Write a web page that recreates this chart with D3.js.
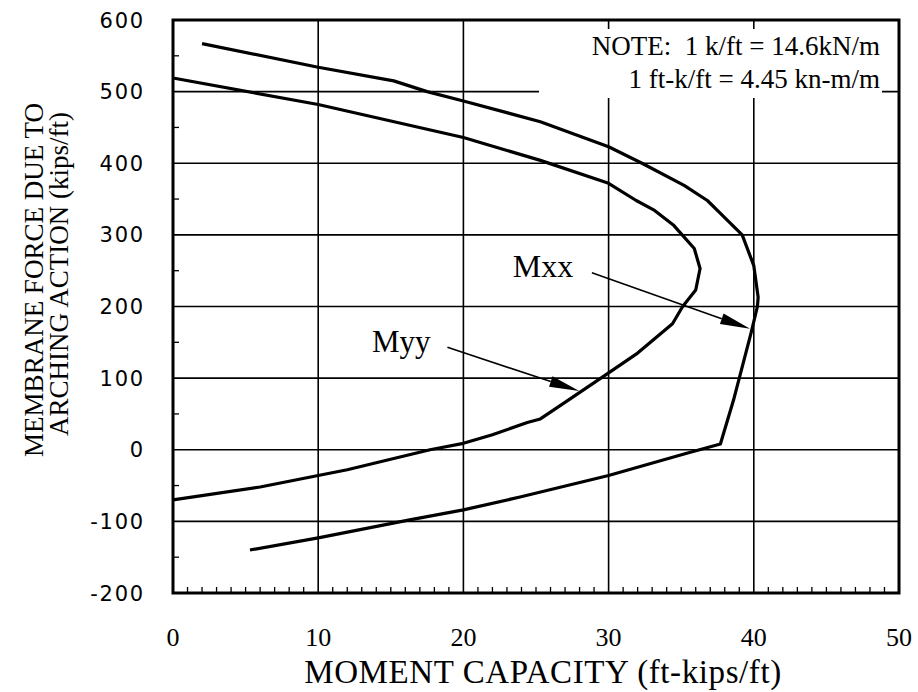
<!DOCTYPE html>
<html>
<head>
<meta charset="utf-8">
<script src="https://cdn.jsdelivr.net/npm/d3@7"></script>
<style>
  html, body { margin: 0; padding: 0; background: #fff; }
  svg { display: block; }
</style>
</head>
<body>
<script>
// ---- Data ----
const xTicks = [0, 10, 20, 30, 40, 50];
const yTicks = [600, 500, 400, 300, 200, 100, 0, -100, -200];

// Mxx: [moment capacity (ft-kips/ft), membrane force (kips/ft)]
const mxxX = [5.3, 10, 16.3, 20, 23.9, 30, 35.2, 37.7, 38.6, 39.8, 40.25, 40.3, 40.0, 39.2, 37.7, 36.8, 35.2, 32.3, 30, 25.3, 20, 17.5, 15.2, 10, 2];
const mxxY = [-140, -123, -98, -84, -66, -36, -6, 8, 69, 162, 200, 213, 257, 300, 330, 348, 369, 400, 423, 458, 487, 500, 515, 534, 567];

// Myy
const myyX = [0, 6, 12, 17.7, 20, 22, 24.4, 25.3, 27.2, 29.9, 32, 34.4, 35.1, 36.0, 36.3, 35.9, 34.5, 33.1, 31.9, 30, 25.3, 20, 10, 0];
const myyY = [-70, -52, -28, 0, 9, 21, 38, 43, 69, 106, 135, 176, 200, 223, 253, 281, 313, 335, 348, 372, 404, 436, 482, 519];

// Annotations (data coordinates)
const labelNames = ["Mxx", "Myy"];
const labelPos = [[23.4, 241], [13.7, 136]];
const arrowFrom = [[28.85, 247], [18.9, 143]];
const arrowTo = [[39.74, 169], [27.98, 82]];

const noteLines = ["NOTE:  1 k/ft = 14.6kN/m", "1 ft-k/ft = 4.45 kn-m/m"];
const xTitle = "MOMENT CAPACITY (ft-kips/ft)";
const yTitle = ["MEMBRANE FORCE DUE TO", "ARCHING ACTION (kips/ft)"];

// ---- Layout ----
const W = 918, H = 692;
const L = 173, R = 899, T = 20, B = 593;
const serif = "'Liberation Serif', 'Times New Roman', serif";
const sans = "'DejaVu Sans', Verdana, sans-serif";

const svg = d3.select("body").append("svg").attr("width", W).attr("height", H);
svg.append("rect").attr("width", W).attr("height", H).attr("fill", "#fff");

const x = d3.scaleLinear().domain([0, 50]).range([L, R]);
const y = d3.scaleLinear().domain([-200, 600]).range([B, T]);

// Gridlines
const gx = svg.append("g");
gx.selectAll("line.v").data(xTicks.filter(d => d > 0 && d < 50)).join("line")
  .attr("x1", d => x(d)).attr("x2", d => x(d)).attr("y1", T).attr("y2", B)
  .attr("stroke", "#000").attr("stroke-width", 1.6);
gx.selectAll("line.h").data(yTicks.filter(d => d > -200 && d < 600)).join("line")
  .attr("y1", d => y(d)).attr("y2", d => y(d)).attr("x1", L).attr("x2", R)
  .attr("stroke", "#000").attr("stroke-width", 1.6);

// Minor ticks (x every 1, y every 50)
const xMinor = d3.range(1, 50).filter(d => d % 10 !== 0);
svg.append("g").selectAll("line").data(xMinor).join("line")
  .attr("x1", d => x(d)).attr("x2", d => x(d)).attr("y1", B).attr("y2", B - 6)
  .attr("stroke", "#000").attr("stroke-width", 1.3);
const yMinor = d3.range(-150, 600, 100);
svg.append("g").selectAll("line").data(yMinor).join("line")
  .attr("y1", d => y(d)).attr("y2", d => y(d)).attr("x1", L).attr("x2", L + 6)
  .attr("stroke", "#000").attr("stroke-width", 1.3);

// Note box (white background)
svg.append("rect").attr("x", 539).attr("y", 29).attr("width", 343).attr("height", 69).attr("fill", "#fff");
svg.append("g").selectAll("text").data(noteLines).join("text")
  .attr("x", 880).attr("y", (d, i) => 55 + i * 33)
  .attr("text-anchor", "end")
  .attr("font-family", serif).attr("font-size", 27)
  .style("white-space", "pre")
  .attr("fill", "#000").text(d => d);

// Curves
const line = d3.line().x(d => x(d[0])).y(d => y(d[1]));
const mxx = mxxX.map((v, i) => [v, mxxY[i]]);
const myy = myyX.map((v, i) => [v, myyY[i]]);
svg.append("path").datum(mxx).attr("d", line).attr("fill", "none")
  .attr("stroke", "#000").attr("stroke-width", 3.2).attr("stroke-linejoin", "round");
svg.append("path").datum(myy).attr("d", line).attr("fill", "none")
  .attr("stroke", "#000").attr("stroke-width", 3.2).attr("stroke-linejoin", "round");

// Frame
svg.append("rect").attr("x", L).attr("y", T).attr("width", R - L).attr("height", B - T)
  .attr("fill", "none").attr("stroke", "#000").attr("stroke-width", 3);

// Arrows
labelNames.forEach((name, i) => {
  const x1 = x(arrowFrom[i][0]), y1 = y(arrowFrom[i][1]);
  const x2 = x(arrowTo[i][0]), y2 = y(arrowTo[i][1]);
  const ang = Math.atan2(y2 - y1, x2 - x1);
  const len = 30, hw = 5.5;
  const bx = x2 - len * Math.cos(ang), by = y2 - len * Math.sin(ang);
  svg.append("line").attr("x1", x1).attr("y1", y1).attr("x2", bx).attr("y2", by)
    .attr("stroke", "#000").attr("stroke-width", 1.6);
  const p = [[x2, y2],
    [bx + hw * Math.sin(ang), by - hw * Math.cos(ang)],
    [bx - hw * Math.sin(ang), by + hw * Math.cos(ang)]];
  svg.append("path").attr("d", "M" + p.map(q => q.join(",")).join("L") + "Z").attr("fill", "#000");
  svg.append("text").attr("x", x(labelPos[i][0])).attr("y", y(labelPos[i][1]))
    .attr("font-family", serif).attr("font-size", i === 0 ? 32 : 31)
    .attr("fill", "#000").text(name);
});

// Tick labels
svg.append("g").selectAll("text").data(yTicks).join("text")
  .attr("x", 145).attr("y", d => y(d)).attr("dy", "0.36em")
  .attr("text-anchor", "end").attr("font-family", sans).attr("font-size", 21)
  .attr("letter-spacing", 1.8)
  .attr("fill", "#000").text(d => d);
svg.append("g").selectAll("text").data(xTicks).join("text")
  .attr("x", d => x(d)).attr("y", 646)
  .attr("text-anchor", "middle").attr("font-family", serif).attr("font-size", 26)
  .attr("fill", "#000").text(d => d);

// Axis titles
svg.append("text").attr("x", 543).attr("y", 683).attr("text-anchor", "middle")
  .attr("font-family", serif).attr("font-size", 33).attr("letter-spacing", 0.6)
  .attr("fill", "#000").text(xTitle);
svg.append("text").attr("transform", "translate(43,280) rotate(-90)").attr("text-anchor", "middle")
  .attr("font-family", serif).attr("font-size", 27).attr("fill", "#000").text(yTitle[0]);
svg.append("text").attr("transform", "translate(68,274) rotate(-90)").attr("text-anchor", "middle")
  .attr("font-family", serif).attr("font-size", 27).attr("fill", "#000").text(yTitle[1]);
</script>
</body>
</html>
